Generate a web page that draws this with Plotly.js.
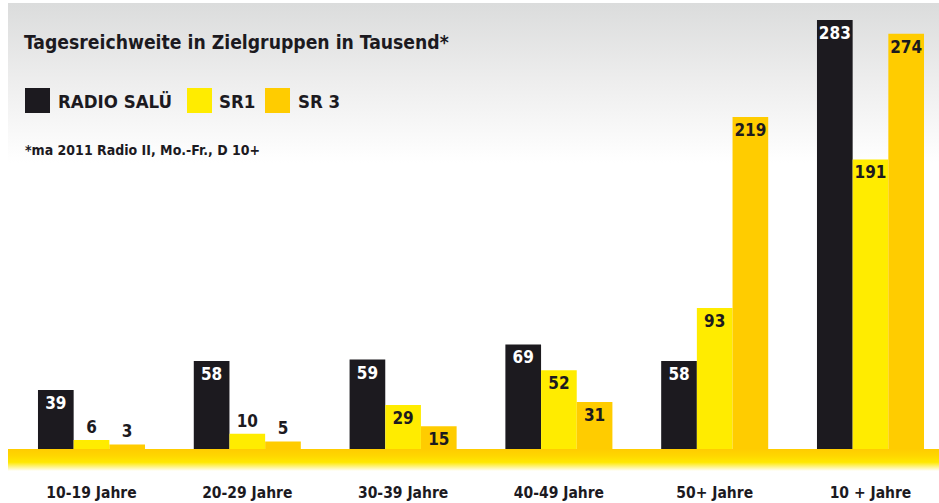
<!DOCTYPE html>
<html>
<head>
<meta charset="utf-8">
<script src="https://cdn.plot.ly/plotly-3.0.1.min.js"></script>
<style>
  html, body { margin: 0; padding: 0; background: #ffffff; }
  #wrap { position: relative; width: 939px; height: 503px; overflow: hidden; }
  #panel { position: absolute; left: 8px; top: 3px; width: 931px; height: 446px;
           background: linear-gradient(to bottom, #dbdcdc 0px, #eeeeee 80px, #ffffff 160px); }
  #band { position: absolute; left: 8px; top: 449px; width: 931px; height: 22px;
          background: linear-gradient(to bottom, #ffcc00 0%, #ffd600 30%, #ffe800 60%, #ffffff 100%); }
  #chart { position: absolute; left: 0; top: 0; width: 939px; height: 503px; }
</style>
</head>
<body>
<div id="wrap">
  <div id="panel"></div>
  <div id="band"></div>
  <div id="chart"></div>
</div>
<script>
// ---- data ----
const categories = ["10-19 Jahre", "20-29 Jahre", "30-39 Jahre", "40-49 Jahre", "50+ Jahre", "10 + Jahre"];
const seriesNames = ["RADIO SALÜ", "SR1", "SR 3"];
const radioSalu = [39, 58, 59, 69, 58, 283];
const sr1 = [6, 10, 29, 52, 93, 191];
const sr3 = [3, 5, 15, 31, 219, 274];
const titleText = "Tagesreichweite in Zielgruppen in Tausend*";
const footnoteText = "*ma 2011 Radio II, Mo.-Fr., D 10+";

// ---- style ----
const FONT = "'DejaVu Sans Condensed', 'DejaVu Sans', sans-serif";
const DARK = "#1c1a1f";
const colors = [DARK, "#ffec00", "#ffcc00"];
const insideTextColors = ["#ffffff", DARK, DARK];
const W = 939, PH = 449;

const seriesValues = [radioSalu, sr1, sr3];
const traces = seriesValues.map((vals, i) => ({
  type: "bar",
  name: seriesNames[i],
  x: categories,
  y: vals,
  marker: { color: colors[i], line: { width: 0 } },
  texttemplate: "%{y}",
  textposition: vals.map(v => v < 12 ? "outside" : "inside"),
  insidetextanchor: "end",
  textangle: 0,
  constraintext: "none",
  cliponaxis: false,
  insidetextfont: { family: FONT, size: 17, color: insideTextColors[i], weight: "bold" },
  outsidetextfont: { family: FONT, size: 17, color: DARK, weight: "bold" },
  hoverinfo: "none",
  showlegend: false
}));

const px = x => x / W;
const py = y => 1 - y / PH;

const legendSquares = [25, 187, 265];
const legendTextX = [57, 218, 297];
const shapes = seriesNames.map((n, i) => ({
  type: "rect", xref: "paper", yref: "paper",
  x0: px(legendSquares[i]), x1: px(legendSquares[i] + 25),
  y0: py(113), y1: py(88),
  fillcolor: colors[i], line: { width: 0 }
}));
const annotations = seriesNames.map((n, i) => ({
  xref: "paper", yref: "paper", x: px(legendTextX[i] - 1), y: py(101),
  xanchor: "left", yanchor: "middle", showarrow: false,
  text: "<b>" + n + "</b>",
  font: { family: FONT, size: 18.5, color: DARK }
}));
annotations.push({
  xref: "paper", yref: "paper", x: px(23), y: py(150),
  xanchor: "left", yanchor: "middle", showarrow: false,
  text: "<b>" + footnoteText + "</b>",
  font: { family: FONT, size: 14, color: DARK }
});

const layout = {
  width: 939, height: 503,
  margin: { l: 0, r: 0, t: 0, b: 54, pad: 0 },
  paper_bgcolor: "rgba(0,0,0,0)",
  plot_bgcolor: "rgba(0,0,0,0)",
  title: {
    text: "<b>" + titleText + "</b>",
    xref: "container", yref: "container",
    x: 24 / 939, xanchor: "left",
    y: 1 - 42 / 503, yanchor: "middle",
    font: { family: FONT, size: 19.2, color: DARK }
  },
  barmode: "group",
  bargap: 0.313,
  bargroupgap: 0,
  xaxis: {
    type: "category",
    range: [-0.5873, 5.4397],
    showgrid: false, zeroline: false, showline: false, ticks: "",
    ticklabelstandoff: 32,
    tickfont: { family: FONT, size: 15.5, color: DARK, weight: "bold" },
    fixedrange: true
  },
  yaxis: {
    range: [0, 296.2],
    visible: false,
    fixedrange: true
  },
  shapes: shapes,
  annotations: annotations,
  showlegend: false
};

Plotly.newPlot("chart", traces, layout, { displayModeBar: false, staticPlot: true });
</script>
</body>
</html>
